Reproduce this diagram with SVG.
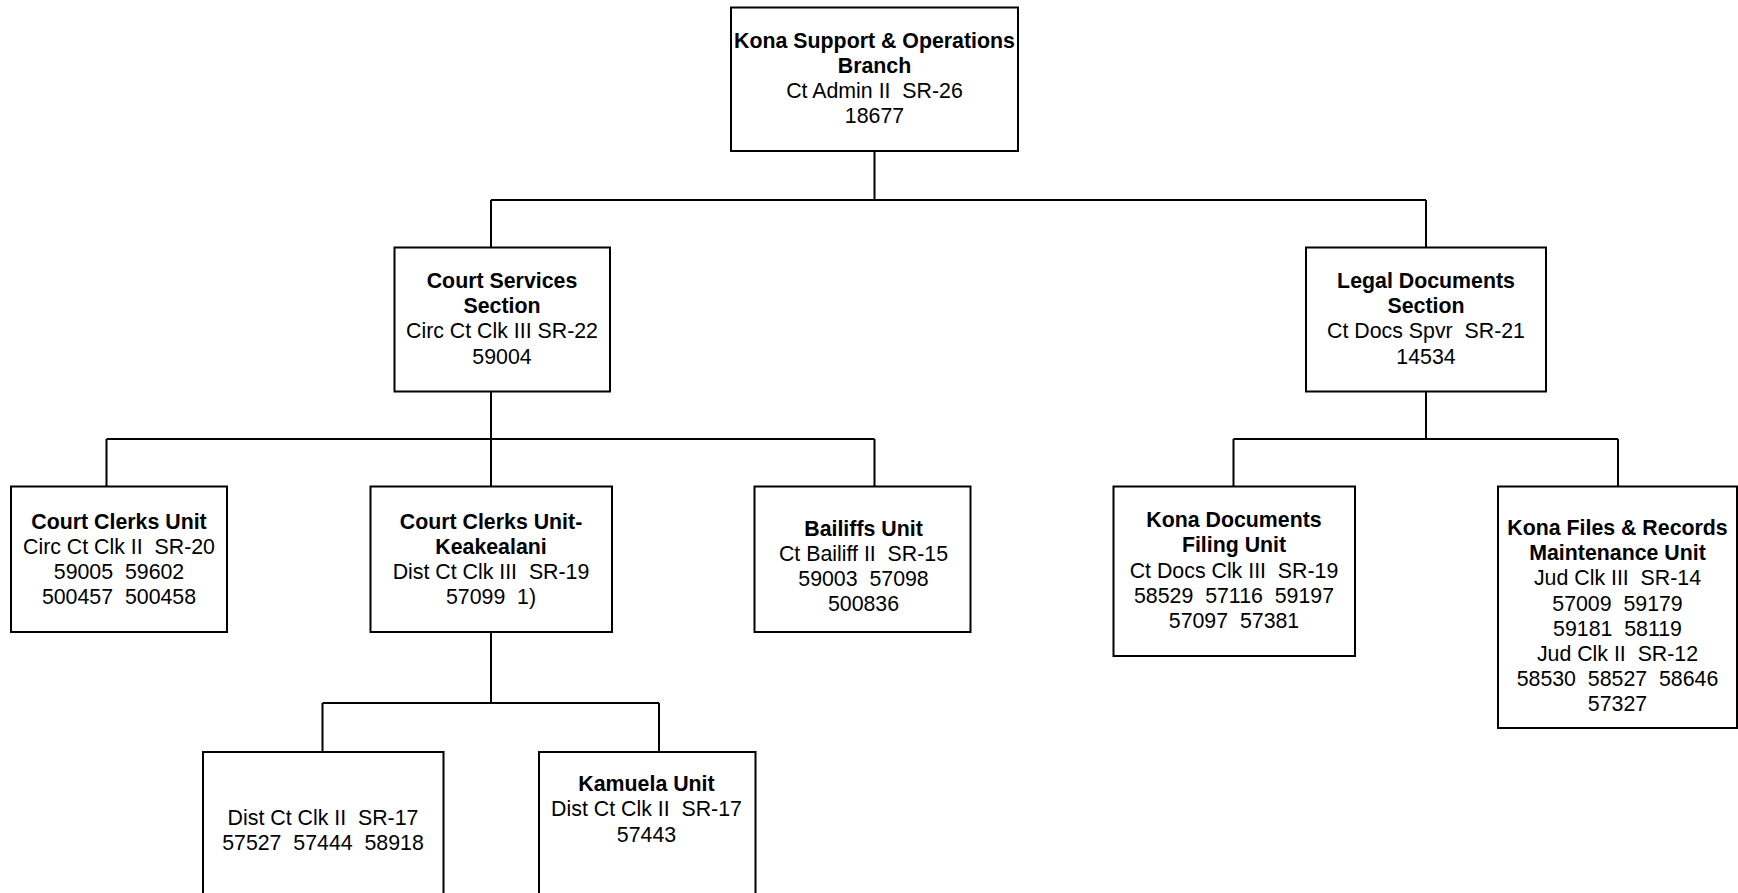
<svg xmlns="http://www.w3.org/2000/svg" width="1738" height="893" viewBox="0 0 1738 893" xml:space="preserve">
  <style>
    .box { fill: #ffffff; stroke: #000000; stroke-width: 2; }
    .wire { fill: none; stroke: #000000; stroke-width: 2; }
    text { font-family: "Liberation Sans", Arial, sans-serif; font-size: 21.33px; fill: #000000; text-anchor: middle; white-space: pre; }
    .t { font-weight: bold; }
  </style>
  <rect width="1738" height="893" fill="#ffffff"/>

  <!-- reporting lines -->
  <g id="connectors">
    <path class="wire" d="M874.5 151 V200 M491 200 H1426 M491 200 V247.5 M1426 200 V247.5"/>
    <path class="wire" d="M491 391.5 V439 M106.5 439 H874.5 M106.5 439 V486.5 M491 439 V486.5 M874.5 439 V486.5"/>
    <path class="wire" d="M1426 391.5 V439 M1233.5 439 H1618 M1233.5 439 V486.5 M1618 439 V486.5"/>
    <path class="wire" d="M491 632 V703 M322.5 703 H659 M322.5 703 V752 M659 703 V752"/>
  </g>

  <g id="branch">
    <rect class="box" x="731" y="7.5" width="287" height="143.5"/>
    <text x="874.5" y="48" class="t">Kona Support &amp; Operations</text>
    <text x="874.5" y="73" class="t">Branch</text>
    <text x="874.5" y="98">Ct Admin II  SR-26</text>
    <text x="874.5" y="123">18677</text>
  </g>

  <g id="court-services">
    <rect class="box" x="394.5" y="247.5" width="215.5" height="144"/>
    <text x="502" y="287.5" class="t">Court Services</text>
    <text x="502" y="312.5" class="t">Section</text>
    <text x="502" y="338">Circ Ct Clk III SR-22</text>
    <text x="502" y="363.5">59004</text>
  </g>

  <g id="legal-documents">
    <rect class="box" x="1306" y="247.5" width="240" height="144"/>
    <text x="1426" y="287.5" class="t">Legal Documents</text>
    <text x="1426" y="312.5" class="t">Section</text>
    <text x="1426" y="338">Ct Docs Spvr  SR-21</text>
    <text x="1426" y="363.5">14534</text>
  </g>

  <g id="court-clerks">
    <rect class="box" x="11" y="486.5" width="216" height="145.5"/>
    <text x="119" y="528.5" class="t">Court Clerks Unit</text>
    <text x="119" y="553.5">Circ Ct Clk II  SR-20</text>
    <text x="119" y="578.5">59005  59602</text>
    <text x="119" y="603.5">500457  500458</text>
  </g>

  <g id="court-clerks-keakealani">
    <rect class="box" x="370.5" y="486.5" width="241.5" height="145.5"/>
    <text x="491" y="528.5" class="t">Court Clerks Unit-</text>
    <text x="491" y="553.5" class="t">Keakealani</text>
    <text x="491" y="578.5">Dist Ct Clk III  SR-19</text>
    <text x="491" y="603.5">57099  1)</text>
  </g>

  <g id="bailiffs">
    <rect class="box" x="754.5" y="486.5" width="216" height="145.5"/>
    <text x="863.5" y="535.5" class="t">Bailiffs Unit</text>
    <text x="863.5" y="560.5">Ct Bailiff II  SR-15</text>
    <text x="863.5" y="585.5">59003  57098</text>
    <text x="863.5" y="610.5">500836</text>
  </g>

  <g id="documents-filing">
    <rect class="box" x="1113.5" y="486.5" width="241.5" height="169.5"/>
    <text x="1234" y="527" class="t">Kona Documents</text>
    <text x="1234" y="552.3" class="t">Filing Unit</text>
    <text x="1234" y="577.6">Ct Docs Clk III  SR-19</text>
    <text x="1234" y="602.9">58529  57116  59197</text>
    <text x="1234" y="628.2">57097  57381</text>
  </g>

  <g id="files-records">
    <rect class="box" x="1498" y="486.5" width="239" height="241.5"/>
    <text x="1617.5" y="535" class="t">Kona Files &amp; Records</text>
    <text x="1617.5" y="560.2" class="t">Maintenance Unit</text>
    <text x="1617.5" y="585.4">Jud Clk III  SR-14</text>
    <text x="1617.5" y="610.6">57009  59179</text>
    <text x="1617.5" y="635.8">59181  58119</text>
    <text x="1617.5" y="661">Jud Clk II  SR-12</text>
    <text x="1617.5" y="686.2">58530  58527  58646</text>
    <text x="1617.5" y="711.4">57327</text>
  </g>

  <g id="district-clerks">
    <rect class="box" x="203" y="752" width="240.5" height="200"/>
    <text x="323" y="825">Dist Ct Clk II  SR-17</text>
    <text x="323" y="850.3">57527  57444  58918</text>
  </g>

  <g id="kamuela">
    <rect class="box" x="539" y="752" width="216.5" height="200"/>
    <text x="646.5" y="790.5" class="t">Kamuela Unit</text>
    <text x="646.5" y="816">Dist Ct Clk II  SR-17</text>
    <text x="646.5" y="841.5">57443</text>
  </g>
</svg>
